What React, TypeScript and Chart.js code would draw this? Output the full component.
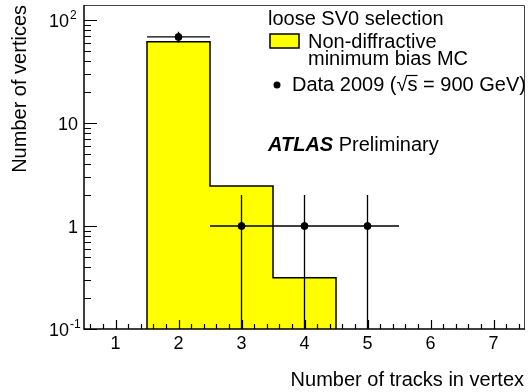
import React, { useEffect, useRef } from 'react';
import { Chart, registerables } from 'chart.js';
Chart.register(...registerables);

// Histogram (MC) bins
const binEdges = [1.5, 2.5, 3.5, 4.5];
const mcValues = [61.5, 2.45, 0.315];
// Data points
const dataX = [2, 3, 4, 5];
const dataY = [68.5, 1, 1, 1];
const dataErrLow = [8.3, 1, 1, 1];
const dataErrHigh = [8.3, 1, 1, 1];
const dataXErr = [0.5, 0.5, 0.5, 0.5];
// Axis ticks
const xTicks = [1, 2, 3, 4, 5, 6, 7];
const xTickLabels = ['1', '2', '3', '4', '5', '6', '7'];
const yTicks = [0.1, 1, 10, 100];
const yTickBase = ['10', '1', '10', '10'];
const yTickExp = ['-1', '', '', '2'];

const X_MIN = 0.5;
const X_MAX = 7.5;
const Y_MIN = 0.1;
const Y_MAX = 140;

const FONT = '"Liberation Sans", Arial, Helvetica, sans-serif';

const rootPlugin = {
  id: 'rootStyle',
  afterDatasetsDraw(chart: any) {
    const ctx = chart.ctx as CanvasRenderingContext2D;
    const area = chart.chartArea;
    const xs = chart.scales.x;
    const ys = chart.scales.y;
    ctx.save();
    ctx.strokeStyle = '#000';
    ctx.lineWidth = 1.3;
    for (let i = 0; i < dataX.length; i++) {
      const px = xs.getPixelForValue(dataX[i]);
      const py = ys.getPixelForValue(dataY[i]);
      const lo = dataY[i] - dataErrLow[i];
      const pyLo = lo > Y_MIN ? ys.getPixelForValue(lo) : area.bottom;
      const pyHi = ys.getPixelForValue(dataY[i] + dataErrHigh[i]);
      const pxL = xs.getPixelForValue(dataX[i] - dataXErr[i]);
      const pxR = xs.getPixelForValue(dataX[i] + dataXErr[i]);
      ctx.beginPath();
      ctx.moveTo(px, pyLo);
      ctx.lineTo(px, pyHi);
      ctx.moveTo(pxL, py);
      ctx.lineTo(pxR, py);
      ctx.stroke();
    }
    ctx.restore();
  },
  afterDraw(chart: any) {
    const ctx = chart.ctx as CanvasRenderingContext2D;
    const area = chart.chartArea;
    const xs = chart.scales.x;
    const ys = chart.scales.y;
    ctx.save();
    // frame top/right
    ctx.strokeStyle = '#444';
    ctx.lineWidth = 1;
    ctx.beginPath();
    ctx.moveTo(area.left, area.top + 0.5);
    ctx.lineTo(area.right - 0.5, area.top + 0.5);
    ctx.lineTo(area.right - 0.5, area.bottom);
    ctx.stroke();
    // axes
    ctx.strokeStyle = '#000';
    ctx.lineWidth = 1.5;
    ctx.beginPath();
    ctx.moveTo(area.left, area.top);
    ctx.lineTo(area.left, area.bottom);
    ctx.lineTo(area.right, area.bottom);
    ctx.stroke();
    // y ticks
    ctx.lineWidth = 1.2;
    ctx.beginPath();
    for (let d = -1; d <= 2; d++) {
      for (let m = 1; m <= 9; m++) {
        const v = m * Math.pow(10, d);
        if (v < Y_MIN || v > Y_MAX) continue;
        const py = Math.round(ys.getPixelForValue(v)) + 0.5;
        const len = m === 1 ? 13 : 7;
        ctx.moveTo(area.left, py);
        ctx.lineTo(area.left + len, py);
      }
    }
    // x ticks
    for (let k = Math.ceil(X_MIN * 5); k <= Math.floor(X_MAX * 5); k++) {
      const v = k / 5;
      if (v <= X_MIN || v >= X_MAX) continue;
      const px = Math.round(xs.getPixelForValue(v)) + 0.5;
      const len = k % 5 === 0 ? 9 : 5;
      ctx.moveTo(px, area.bottom);
      ctx.lineTo(px, area.bottom - len);
    }
    ctx.stroke();

    // tick labels
    ctx.fillStyle = '#000';
    ctx.font = `18px ${FONT}`;
    ctx.textBaseline = 'alphabetic';
    ctx.textAlign = 'center';
    xTicks.forEach((v, i) => {
      ctx.fillText(xTickLabels[i], xs.getPixelForValue(v), area.bottom + 20);
    });
    yTicks.forEach((v, i) => {
      const py = ys.getPixelForValue(v);
      const base = yTickBase[i];
      const exp = yTickExp[i];
      ctx.font = `18px ${FONT}`;
      ctx.textAlign = 'right';
      if (!exp) {
        ctx.fillText(base, area.left - 6, py + 6.5);
      } else {
        ctx.fillText(base, area.left - 15, py + 6.5);
        ctx.font = `12px ${FONT}`;
        ctx.textAlign = 'left';
        ctx.fillText(exp, area.left - 14, py - 1);
      }
    });

    // axis titles
    ctx.font = `20px ${FONT}`;
    ctx.textAlign = 'right';
    ctx.fillText('Number of tracks in vertex', area.right - 1, 386);
    ctx.save();
    ctx.translate(26, area.top);
    ctx.rotate(-Math.PI / 2);
    ctx.textAlign = 'right';
    ctx.fillText('Number of vertices', 0, 0);
    ctx.restore();

    // legend
    ctx.textAlign = 'left';
    ctx.font = `20px ${FONT}`;
    ctx.fillText('loose SV0 selection', 268, 25);
    ctx.fillStyle = '#ffff00';
    ctx.fillRect(270, 34, 29, 14);
    ctx.strokeStyle = '#000';
    ctx.lineWidth = 1.5;
    ctx.strokeRect(270, 34, 29, 14);
    ctx.fillStyle = '#000';
    ctx.fillText('Non-diffractive', 308, 48);
    ctx.fillText('minimum bias MC', 308, 65);
    ctx.beginPath();
    ctx.arc(277, 85, 3.5, 0, Math.PI * 2);
    ctx.fill();
    let tx = 292;
    const ty = 91;
    const seg1 = 'Data 2009 (';
    ctx.fillText(seg1, tx, ty);
    tx += ctx.measureText(seg1).width;
    ctx.fillText('\u221A', tx, ty);
    const sqrtW = ctx.measureText('\u221A').width;
    const sW = ctx.measureText('s').width;
    ctx.lineWidth = 1.2;
    ctx.beginPath();
    ctx.moveTo(tx + sqrtW - 1, ty - 15.5);
    ctx.lineTo(tx + sqrtW + sW, ty - 15.5);
    ctx.stroke();
    tx += sqrtW;
    ctx.fillText('s', tx, ty);
    tx += sW;
    ctx.fillText(' = 900 GeV)', tx, ty);

    ctx.font = `italic bold 20px ${FONT}`;
    ctx.fillText('ATLAS', 268, 151);
    const aw = ctx.measureText('ATLAS ').width;
    ctx.font = `20px ${FONT}`;
    ctx.fillText('Preliminary', 268 + aw, 151);
    ctx.restore();
  },
};

export default function App() {
  const ref = useRef<HTMLCanvasElement | null>(null);
  useEffect(() => {
    document.body.style.margin = '0';
    const stepPts: { x: number; y: number }[] = [{ x: binEdges[0], y: Y_MIN }];
    mcValues.forEach((v, i) => {
      stepPts.push({ x: binEdges[i], y: v });
      stepPts.push({ x: binEdges[i + 1], y: v });
    });
    stepPts.push({ x: binEdges[binEdges.length - 1], y: Y_MIN });
    const pts = dataX.map((x, i) => ({ x, y: dataY[i] }));
    const chart = new Chart(ref.current as HTMLCanvasElement, {
      type: 'scatter',
      data: {
        datasets: [
          {
            type: 'scatter',
            label: 'Data 2009',
            data: pts,
            pointRadius: 3.5,
            pointBackgroundColor: '#000',
            pointBorderColor: '#000',
            order: 0,
          } as any,
          {
            type: 'line',
            label: 'MC',
            data: stepPts,
            fill: 'start',
            backgroundColor: '#ffff00',
            borderColor: '#000',
            borderWidth: 1.5,
            pointRadius: 0,
            tension: 0,
            order: 1,
          } as any,
        ],
      },
      options: {
        responsive: false,
        animation: false,
        layout: { padding: { left: 84, top: 5, right: 1, bottom: 63 } },
        scales: {
          x: { type: 'linear', min: X_MIN, max: X_MAX, display: false },
          y: { type: 'logarithmic', min: Y_MIN, max: Y_MAX, display: false },
        },
        plugins: { legend: { display: false }, tooltip: { enabled: false } },
      },
      plugins: [rootPlugin],
    });
    return () => chart.destroy();
  }, []);
  return (
    <div style={{ position: 'absolute', left: 0, top: 0, width: 530, height: 392, background: '#fff' }}>
      <canvas ref={ref} width={530} height={392} />
    </div>
  );
}
